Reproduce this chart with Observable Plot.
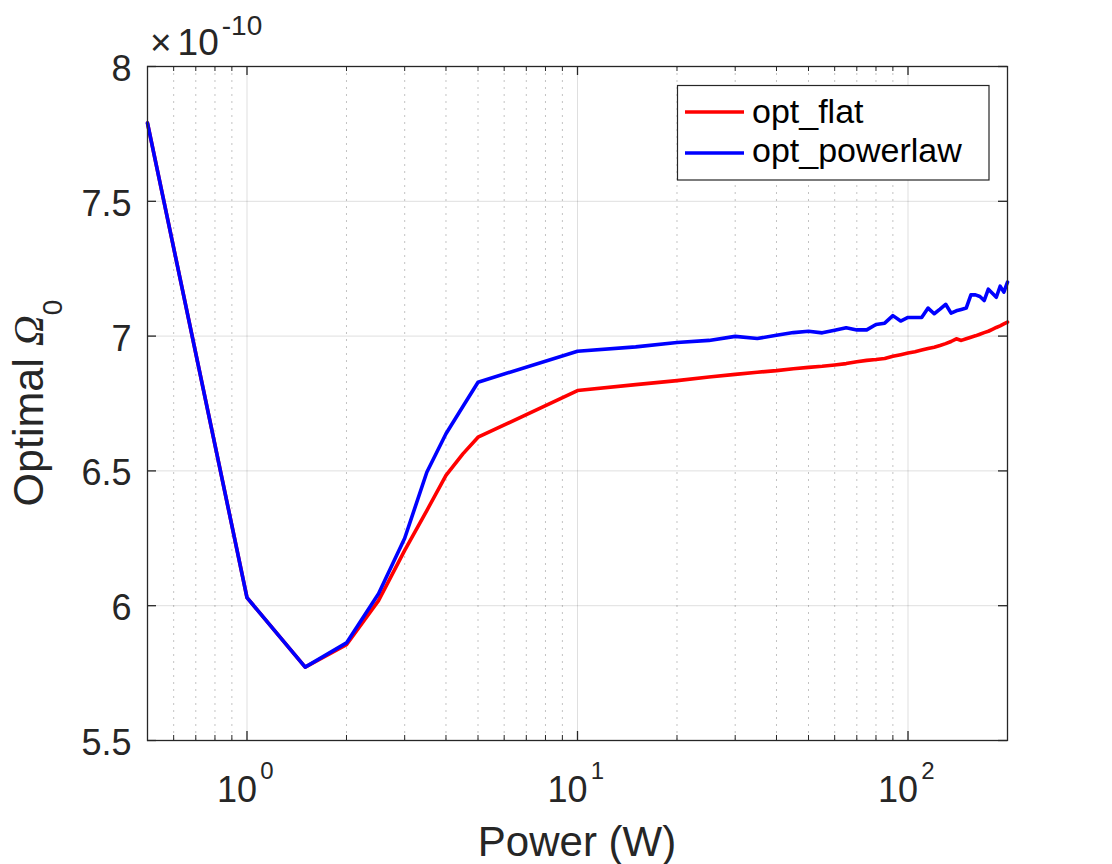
<!DOCTYPE html>
<html><head><meta charset="utf-8">
<script src="https://cdn.jsdelivr.net/npm/d3@7"></script>
<script src="https://cdn.jsdelivr.net/npm/@observablehq/plot@0.6"></script>
<style>body{margin:0;background:#fff;}</style>
</head><body><div id="chart"></div>
<script>
// Power (W)
const powerW = [0.5,1,1.5,2,2.5,3,3.5,4,4.5,5,10,15,20,25,30,35,40,45,50,55,60,65,70,75,80,85,90,95,100,
  105,110,115,120,125,130,135,140,145,150,155,160,165,170,175,180,185,190,195,200];
// Optimal Omega_0 in units of 1e-10
const optFlat = [7.79,6.03,5.772,5.855,6.019,6.205,6.353,6.483,6.563,6.625,6.798,6.820,6.835,6.848,6.858,6.866,6.872,6.879,6.884,6.888,6.893,6.898,6.905,6.910,6.913,6.917,6.925,6.931,6.937,
  6.942,6.948,6.954,6.959,6.965,6.972,6.980,6.990,6.984,6.990,6.996,7.001,7.007,7.013,7.018,7.025,7.032,7.038,7.045,7.052];
const optPowerlaw = [7.79,6.03,5.772,5.862,6.044,6.250,6.495,6.638,6.739,6.829,6.944,6.960,6.976,6.984,6.999,6.991,7.003,7.013,7.018,7.012,7.022,7.031,7.023,7.023,7.043,7.048,7.076,7.056,7.069,
  7.069,7.069,7.104,7.083,7.100,7.118,7.085,7.094,7.099,7.104,7.153,7.153,7.147,7.132,7.174,7.159,7.144,7.185,7.163,7.200];
const seriesNames = ["opt_flat","opt_powerlaw"];
const seriesColors = ["#ff0000","#0000ff"];
const yTicks = [5.5,6,6.5,7,7.5,8];
const xDecades = [1,10,100];
const xDecadeExp = ["0","1","2"];
const xMinor = [0.6,0.7,0.8,0.9,2,3,4,5,6,7,8,9,20,30,40,50,60,70,80,90];

const rows = [];
[optFlat, optPowerlaw].forEach((vals, i) => {
  powerW.forEach((p, j) => rows.push({series: seriesNames[i], power: p, value: vals[j]}));
});

const W = 1112, H = 864, mL = 147, mR = 105, mT = 66, mB = 124;
const innerW = W - mL - mR, innerH = H - mT - mB;
const ink = "#262626";
const font = "'Liberation Sans', Arial, Helvetica, sans-serif";
const majLen = 9, minLen = 5;

const plot = Plot.plot({
  width: W, height: H,
  marginLeft: mL, marginRight: mR, marginTop: mT, marginBottom: mB,
  style: {fontFamily: font, background: "#fff", color: ink, overflow: "visible"},
  x: {type: "log", domain: [0.5, 200], axis: null},
  y: {domain: [5.5, 8], axis: null},
  color: {domain: seriesNames, range: seriesColors},
  marks: [
    Plot.ruleX(xMinor, {stroke: ink, strokeOpacity: 0.28, strokeDasharray: "2,5", strokeWidth: 1}),
    Plot.ruleX(xDecades, {stroke: ink, strokeOpacity: 0.15, strokeWidth: 1}),
    Plot.ruleY(yTicks, {stroke: ink, strokeOpacity: 0.15, strokeWidth: 1}),
    Plot.line(rows, {x: "power", y: "value", z: "series", stroke: "series", strokeWidth: 3.6, strokeLinejoin: "round"}),
    // tick marks (inward, bottom/top/left/right)
    Plot.ruleX(xDecades, {stroke: ink, strokeWidth: 1.3, insetTop: innerH - majLen}),
    Plot.ruleX(xDecades, {stroke: ink, strokeWidth: 1.3, insetBottom: innerH - majLen}),
    Plot.ruleX(xMinor, {stroke: ink, strokeWidth: 1, insetTop: innerH - minLen}),
    Plot.ruleX(xMinor, {stroke: ink, strokeWidth: 1, insetBottom: innerH - minLen}),
    Plot.ruleY(yTicks, {stroke: ink, strokeWidth: 1.3, insetRight: innerW - majLen}),
    Plot.ruleY(yTicks, {stroke: ink, strokeWidth: 1.3, insetLeft: innerW - majLen}),
    Plot.frame({stroke: ink, strokeWidth: 1.3}),
    // tick labels
    Plot.text(yTicks, {y: d => d, frameAnchor: "left", text: d => String(d), textAnchor: "end",
      dx: -16, dy: 3, fontSize: 36, lineAnchor: "middle", fill: ink}),
    Plot.text(xDecades, {x: d => d, frameAnchor: "bottom", text: () => "10", textAnchor: "middle",
      dx: -10, dy: 61, fontSize: 36, lineAnchor: "bottom", fill: ink}),
    Plot.text(xDecades, {x: d => d, frameAnchor: "bottom", text: (d, i) => xDecadeExp[i], textAnchor: "middle",
      dx: 20, dy: 38, fontSize: 24, lineAnchor: "bottom", fill: ink})
  ]
});

const svg = d3.select(plot);

// axis labels
svg.append("text").attr("x", mL + innerW / 2).attr("y", 856).attr("text-anchor", "middle")
  .attr("font-size", 42).attr("fill", ink).attr("font-family", font).text("Power (W)");

const yl = svg.append("text").attr("transform", "translate(43," + (mT + innerH / 2) + ") rotate(-90)")
  .attr("text-anchor", "middle").attr("font-size", 43).attr("fill", ink).attr("font-family", font);
yl.append("tspan").text("Optimal ");
yl.append("tspan").attr("font-family", "'Liberation Serif', 'DejaVu Serif', serif").attr("font-style", "italic").text("Ω");
yl.append("tspan").attr("font-size", 28).attr("dy", 19).text("0");

// exponent multiplier
const mult = svg.append("text").attr("x", 150).attr("y", 55).attr("text-anchor", "start")
  .attr("fill", ink).attr("font-family", font).attr("font-size", 37);
mult.append("tspan").text("×");
mult.append("tspan").attr("dx", 6).text("10");
mult.append("tspan").attr("font-size", 28).attr("dx", 3).attr("dy", -20).text("-10");

// legend
const lg = svg.append("g").attr("font-family", font).attr("text-anchor", "start");
lg.append("rect").attr("x", 677.5).attr("y", 85.5).attr("width", 311.5).attr("height", 94.5)
  .attr("fill", "#fff").attr("stroke", ink).attr("stroke-width", 1.2);
const legendLineY = [112, 153];
const legendTextY = [123, 161.5];
seriesNames.forEach((name, i) => {
  lg.append("line").attr("x1", 685).attr("x2", 744).attr("y1", legendLineY[i]).attr("y2", legendLineY[i])
    .attr("stroke", seriesColors[i]).attr("stroke-width", 3.6);
  lg.append("text").attr("x", 752).attr("y", legendTextY[i]).attr("font-size", 34)
    .attr("text-anchor", "start").attr("fill", "#000").text(name);
});

document.getElementById("chart").appendChild(plot);
</script>
</body></html>
